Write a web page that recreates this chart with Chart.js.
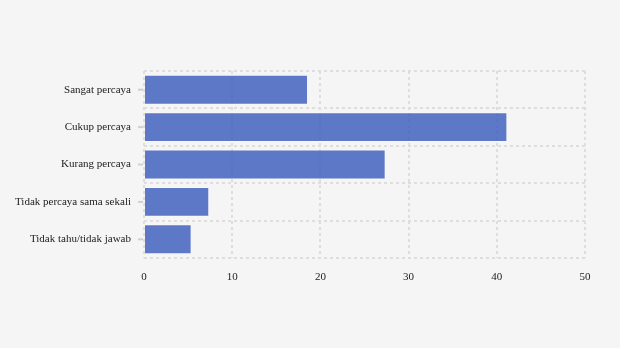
<!DOCTYPE html>
<html lang="id">
<head>
<meta charset="UTF-8">
<title>Chart</title>
<script src="https://cdn.jsdelivr.net/npm/chart.js"></script>
<style>
  body { margin: 0; background: #f5f5f5; }
  #wrap { width: 620px; height: 348px; }
</style>
</head>
<body>
<div id="wrap"><canvas id="grafik"></canvas></div>
<script>
// data kategori dan nilai
const kategori = ['Sangat percaya', 'Cukup percaya', 'Kurang percaya', 'Tidak percaya sama sekali', 'Tidak tahu/tidak jawab']
const nilai = [18.6, 41.2, 27.4, 7.4, 5.4]
const tickX = [0, 10, 20, 30, 40, 50]

const gridStyle = {
  color: '#dedede',
  lineWidth: 2
}

// garis tick kecil di tengah tiap kategori (grid sendiri ada di batas kategori)
const tickTengah = {
  id: 'tickTengah',
  afterDraw(chart) {
    const ctx = chart.ctx
    const y = chart.scales.y
    const kiri = chart.chartArea.left
    ctx.save()
    ctx.strokeStyle = '#d0d0d0'
    ctx.lineWidth = 2
    y.ticks.forEach((t, i) => {
      const py = y.getPixelForTick(i)
      ctx.beginPath()
      ctx.moveTo(kiri - 6, py)
      ctx.lineTo(kiri - 1, py)
      ctx.stroke()
    })
    ctx.restore()
  }
}

new Chart(document.getElementById('grafik'), {
  type: 'bar',
  data: {
    labels: kategori,
    datasets: [{
      data: nilai,
      backgroundColor: 'rgba(67,98,192,0.85)',
      borderColor: 'rgba(255,255,255,0.4)',
      borderWidth: 1,
      barPercentage: 0.8,
      categoryPercentage: 1
    }]
  },
  options: {
    indexAxis: 'y',
    responsive: true,
    maintainAspectRatio: false,
    animation: false,
    layout: { padding: { top: 71, right: 35, left: 0, bottom: 0 } },
    plugins: { legend: { display: false }, tooltip: { enabled: false } },
    scales: {
      x: {
        min: 0,
        max: 50,
        afterBuildTicks: s => { s.ticks = tickX.map(v => ({ value: v })) },
        afterFit: s => { s.height = 90 },
        grid: { ...gridStyle, drawTicks: false },
        border: { display: false, dash: [3, 3] },
        ticks: { padding: 13, color: '#222', font: { family: 'Liberation Serif', size: 11 } }
      },
      y: {
        afterFit: s => { s.width = 144 },
        grid: { ...gridStyle, drawTicks: false },
        border: { display: false, dash: [3, 3] },
        ticks: { padding: 13, color: '#222', font: { family: 'Liberation Serif', size: 11 } }
      }
    }
  },
  plugins: [tickTengah]
})
</script>
</body>
</html>
